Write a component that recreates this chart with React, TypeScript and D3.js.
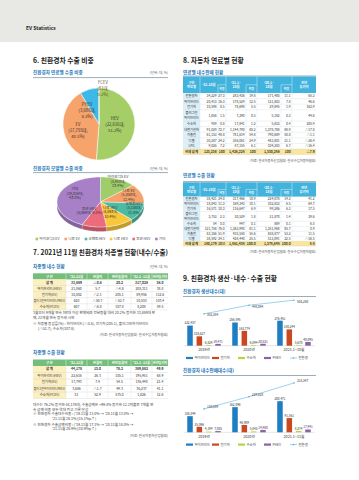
import * as d3 from "d3";

const W = 359;
const H = 480;
const FONT = "'Noto Sans CJK KR', 'Noto Sans', sans-serif";

// 6. 친환경차 연료별 수출 비중
const fuelNames = ["HEV", "EV", "PHEV", "FCEV"];
const fuelCounts = [22616, 17793, 3686, 81];
const fuelShares = [51.2, 40.3, 8.3, 0.2];
const fuelColors = ["#a5cf66", "#f6a46c", "#3cb9e9", "#76692a"];

// 6. 친환경차 모델별 수출 비중
const modelNames = ["아이오닉5 EV", "니로 EV", "쏘렌토HEV", "니로 HEV", "투싼 HEV", "기타"];
const modelCounts = [5910, 5480, 5108, 4593, 4069, 19016];
const modelShares = [13.4, 12.4, 11.6, 10.4, 9.2, 43.0];
const modelColors = ["#9fcd69", "#f6a26b", "#4dbba3", "#f8c73a", "#ec6b7c", "#a880c8"];

// 7. 차종별 내수 / 수출
const typeHeader = ["구 분", "'21.11월", "전월비", "전년동월비", "'21.1~11월", "전년동기비"];
const typeDomestic = [
  ["합 계", "33,889", "△0.8", "20.2", "317,028", "58.0"],
  ["하이브리드(HEV)", "21,860", "5.7", "△4.8", "208,311", "38.8"],
  ["전기차(EV)", "10,802", "△2.1", "205.1", "89,956", "112.6"],
  ["플러그인하이브리드(PHEV)", "620", "△50.7", "△52.7", "10,553", "103.4"],
  ["수소차(FCEV)", "607", "△8.0", "107.8", "8,208", "59.5"],
];
const typeExport = [
  ["합 계", "44,176", "15.0", "76.2", "369,662", "49.9"],
  ["하이브리드(HEV)", "22,616", "26.3", "105.1", "195,951", "68.9"],
  ["전기차(EV)", "17,793", "7.4", "54.5", "136,448", "21.4"],
  ["플러그인하이브리드(PHEV)", "3,686", "△1.7", "49.3", "36,237", "41.1"],
  ["수소차(FCEV)", "81", "52.9", "575.0", "1,026", "12.6"],
];

// 8. 연료별 내수판매 / 수출
const fuelDomestic = [
  ["친환경차", "34,229", "27.3", "283,436", "19.8", "171,480", "11.1", "65.3"],
  ["하이브리드", "20,413", "16.3", "178,529", "12.5", "121,803", "7.8", "46.6"],
  ["전기차", "10,598", "8.5", "78,690", "5.5", "29,845", "1.9", "163.9"],
  ["플러그인\n하이브리드", "1,858", "1.5", "7,390", "0.5", "5,182", "0.3", "44.6"],
  ["수소차", "959", "0.8", "17,841", "1.2", "5,833", "0.4", "205.9"],
  ["내연기관차", "91,029", "72.7", "1,144,790", "80.2", "1,378,788", "88.9", "△17.0"],
  ["가솔린", "61,153", "48.8", "781,614", "54.8", "790,689", "50.8", "△1.1"],
  ["디젤", "30,287", "24.2", "356,061", "24.9", "483,801", "31.1", "△26.4"],
  ["LPG", "9,026", "7.2", "87,155", "6.1", "104,283", "6.7", "△16.4"],
  ["전체 합계", "125,258", "100", "1,428,226", "100", "1,550,268", "100", "△7.9"],
];
const fuelExport = [
  ["친환경차", "38,421", "24.0", "317,466", "18.9", "224,878", "14.3", "41.2"],
  ["하이브리드", "18,043", "11.3", "169,343", "10.1", "102,833", "6.5", "64.7"],
  ["전기차", "16,571", "10.3", "116,647", "6.9", "99,286", "6.3", "17.5"],
  ["플러그인\n하이브리드", "3,753", "2.3", "30,529", "1.8", "21,870", "1.4", "39.6"],
  ["수소차", "54", "0.0", "947", "0.1", "889", "0.1", "6.5"],
  ["내연기관차", "121,758", "76.0", "1,363,990", "81.1", "1,351,968", "85.7", "0.9"],
  ["가솔린", "83,166", "51.9", "935,550", "55.6", "838,877", "53.2", "11.5"],
  ["디젤", "38,592", "24.1", "428,440", "25.5", "513,091", "32.5", "△16.5"],
  ["전체 합계", "160,179", "100.0", "1,681,456", "100.0", "1,576,846", "100.0", "6.6"],
];

// 9. 생산 / 내수판매
const seriesNames = ["하이브리드", "전기차", "수소차", "PHEV"];
const seriesColors = ["#1f7dc4", "#c9481f", "#b8d43c", "#8c62a8"];
const totalName = "친환경";
const totalColor = "#5ab6e4";

const prodYears = ["2019년", "2020년", "2021.1~10월"];
const prodHev = [222457, 256595, 276451];
const prodEv = [103627, 163774, 180244];
const prodFcev = [6829, 6894, 5670];
const prodPhev = [19471, 20831, 40895];
const prodTotal = [352384, 448094, 503260];

const salesYears = ["2019년", "2020년", "2021.1~11월"];
const salesHev = [103844, 162096, 200471];
const salesEv = [35046, 46909, 91561];
const salesFcev = [4194, 5843, 8374];
const salesPhev = [7805, 14980, 17941];
const salesTotal = [150889, 229828, 318347];

const fmt = d3.format(",");

// rough text width, used to squeeze text that would overflow its box
const estW = (s: string, fs: number) => {
  let w = 0;
  for (const c of s) {
    if (/[\uAC00-\uD7A3]/.test(c)) w += fs * 0.92;
    else if (/[0-9]/.test(c)) w += fs * 0.56;
    else if (/[A-Z]/.test(c)) w += fs * 0.66;
    else if ("△→↑※".includes(c)) w += fs * 0.9;
    else if (c === " ") w += fs * 0.25;
    else w += fs * 0.34;
  }
  return w;
};

type TP = {
  x: number;
  y: number;
  s: string;
  fs?: number;
  anchor?: "start" | "middle" | "end";
  fill?: string;
  weight?: number;
  max?: number;
};

const T = ({ x, y, s, fs = 4, anchor = "start", fill = "#333", weight = 400, max }: TP) => {
  const fit = max !== undefined && estW(s, fs) > max;
  return (
    <text
      x={x}
      y={y}
      fontSize={fs}
      textAnchor={anchor}
      fill={fill}
      fontWeight={weight}
      {...(fit ? { textLength: max, lengthAdjust: "spacingAndGlyphs" } : {})}
    >
      {s}
    </text>
  );
};

const Title = ({ x, y, s, max }: { x: number; y: number; s: string; max?: number }) => (
  <T x={x} y={y} s={s} fs={6.8} weight={700} fill="#1b1b1b" max={max} />
);
const Sub = ({ x, y, s }: { x: number; y: number; s: string }) => (
  <T x={x} y={y} s={s} fs={4.6} weight={700} fill="#2a79b9" />
);
const Rule = ({ x1, x2, y }: { x1: number; x2: number; y: number }) => (
  <line x1={x1} x2={x2} y1={y} y2={y} stroke="#557586" strokeWidth={0.6} />
);

// ---------- pies ----------
const fuelLabelK = [
  [0.44, 0.44, 0],
  [0.6, 0.85, 0],
  [1.23, 0.4, 0],
  [0, 1, 4],
];

const FuelPie = () => {
  const cx = 99,
    cy = 124,
    r = 36;
  const arcs = d3.pie<number>().sort(null).value((d) => d)(fuelCounts);
  const arc = d3.arc<d3.PieArcDatum<number>>().innerRadius(0).outerRadius(r);
  return (
    <g>
      <g transform={`translate(${cx},${cy})`}>
        {arcs.map((a, i) => (
          <path key={i} d={arc(a) || ""} fill={fuelColors[i]} stroke="#fff" strokeWidth={0.5} />
        ))}
      </g>
      {arcs.map((a, i) => {
        const mid = (a.startAngle + a.endAngle) / 2;
        const [kx, ky, dx] = fuelLabelK[i];
        const lx = cx + r * kx * Math.sin(mid) + dx;
        const ly = cy - r * ky * Math.cos(mid);
        const lines = [fuelNames[i], `(${fmt(fuelCounts[i])}대,`, `${fuelShares[i]}%)`];
        return (
          <g key={i}>
            {lines.map((s, j) => (
              <T key={j} x={lx} y={ly + (j - 1) * 6 + 1.5} s={s} fs={4.2} anchor="middle" fill={i === 3 ? "#5b5220" : "#333"} />
            ))}
          </g>
        );
      })}
    </g>
  );
};

const modelLabelK = [
  [0.98, 0.9],
  [0.69, 0.85],
  [0.84, 0.6],
  [0.49, 0.45],
  [1.77, 0.34],
  [0.6, 1.56],
];

const ModelPie = () => {
  const cx = 100.5,
    cy = 202,
    rx = 43.5,
    ry = 25,
    depth = 4.5;
  const arcs = d3.pie<number>().sort(null).value((d) => d)(modelCounts);
  const P = (a: number, dy = 0): [number, number] => [cx + rx * Math.sin(a), cy - ry * Math.cos(a) + dy];
  const sample = (a0: number, a1: number) => d3.range(0, 31).map((k) => a0 + ((a1 - a0) * k) / 30);
  const lg = d3.line();
  const sides = arcs.map((a) => {
    const s = Math.max(a.startAngle, Math.PI / 2);
    const e = Math.min(a.endAngle, (3 * Math.PI) / 2);
    if (s >= e) return null;
    const pts = sample(s, e);
    return lg([...pts.map((t) => P(t)), ...pts.slice().reverse().map((t) => P(t, depth))]) + "Z";
  });
  const tops = arcs.map((a) => lg([[cx, cy], ...sample(a.startAngle, a.endAngle).map((t) => P(t))]) + "Z");

  // legend, laid out by text width and centred under the pie
  const lfs = 3.6;
  const widths = modelNames.map((n) => 2.6 + 1.2 + estW(n, lfs));
  const gap = 4.2;
  const total = d3.sum(widths) + gap * (widths.length - 1);
  let lx = cx - total / 2;
  const legendX = widths.map((w) => {
    const v = lx;
    lx += w + gap;
    return v;
  });

  return (
    <g>
      {sides.map((d, i) =>
        d ? <path key={i} d={d} fill={d3.color(modelColors[i])!.darker(0.7).toString()} stroke="#fff" strokeWidth={0.2} /> : null
      )}
      {tops.map((d, i) => (
        <path key={i} d={d} fill={modelColors[i]} stroke="#fff" strokeWidth={0.4} />
      ))}
      {arcs.map((a, i) => {
        const mid = (a.startAngle + a.endAngle) / 2;
        const [kx, ky] = modelLabelK[i];
        const x = cx + rx * kx * Math.sin(mid);
        const y = cy - ry * ky * Math.cos(mid);
        const lines =
          i === 4
            ? [modelNames[i], `(${fmt(modelCounts[i])}대, ${modelShares[i]}%)`]
            : [modelNames[i], `(${fmt(modelCounts[i])}대,`, `${modelShares[i].toFixed(1)}%)`];
        const off = (lines.length - 1) / 2;
        return (
          <g key={i}>
            {lines.map((s, j) => (
              <T key={j} x={x} y={y + (j - off) * 4.4 + 1.3} s={s} fs={3.7} anchor="middle" fill="#333" />
            ))}
          </g>
        );
      })}
      {modelNames.map((n, i) => (
        <g key={n}>
          <rect x={legendX[i]} y={237.7} width={2.6} height={2.6} fill={modelColors[i]} />
          <T x={legendX[i] + 3.8} y={240.3} s={n} fs={lfs} fill="#444" />
        </g>
      ))}
    </g>
  );
};

// ---------- tables ----------
const TypeTable = ({ top, rh, header, rows }: { top: number; rh: number; header: string[]; rows: string[][] }) => {
  const edges = [33, 66, 87, 108, 131, 152, 168];
  const fs = 3.4;
  const bottom = top + rh * (rows.length + 1);
  return (
    <g>
      <rect x={33} y={top} width={135} height={rh} fill="#74bd7b" />
      {rows.map((_, ri) => (
        <rect key={ri} x={33} y={top + rh * (ri + 1)} width={33} height={rh} fill="#fcefc0" />
      ))}
      {header.map((h, i) => (
        <T
          key={i}
          x={(edges[i] + edges[i + 1]) / 2}
          y={top + rh / 2 + fs * 0.36}
          s={h}
          fs={fs}
          anchor="middle"
          fill="#fff"
          weight={700}
          max={edges[i + 1] - edges[i] - 1.5}
        />
      ))}
      {edges.slice(1, -1).map((e) => (
        <g key={e}>
          <line x1={e} x2={e} y1={top} y2={top + rh} stroke="#fff" strokeWidth={0.4} />
          <line x1={e} x2={e} y1={top + rh} y2={bottom} stroke="#d6d6d6" strokeWidth={0.3} />
        </g>
      ))}
      {rows.map((r, ri) => {
        const y0 = top + rh * (ri + 1);
        return (
          <g key={ri}>
            {r.map((c, ci) => (
              <T
                key={ci}
                x={(edges[ci] + edges[ci + 1]) / 2}
                y={y0 + rh / 2 + fs * 0.36}
                s={c}
                fs={fs}
                anchor="middle"
                fill="#333"
                weight={ri === 0 ? 700 : 400}
                max={edges[ci + 1] - edges[ci] - 1.5}
              />
            ))}
            <line x1={33} x2={168} y1={y0 + rh} y2={y0 + rh} stroke="#cfcfcf" strokeWidth={0.35} />
          </g>
        );
      })}
    </g>
  );
};

const FuelTable = ({ top, headH, rh, rows }: { top: number; headH: number; rh: number; rows: string[][] }) => {
  const edges = [183, 200, 218, 226, 246, 257, 281, 292, 316];
  const fs = 3.3;
  const hs = rows.map((r) => (r[0].includes("\n") ? rh * 2 : rh));
  const tops = hs.map((_, i) => top + headH + d3.sum(hs.slice(0, i)));
  const bottom = top + headH + d3.sum(hs);
  const mid = top + headH / 2;
  const hy = (y: number) => y + fs * 0.36;
  const spans: [number, string[]][] = [
    [0, ["구분", "연료별"]],
    [1, ["'21.10월"]],
    [3, ["'21.1~", "10월"]],
    [5, ["'20.1~", "10월"]],
    [7, ["전년", "동기비"]],
  ];
  return (
    <g>
      <rect x={183} y={top} width={133} height={headH} fill="#41b3dc" />
      {rows.map((r, i) =>
        i === rows.length - 1 ? (
          <rect key={i} x={183} y={tops[i]} width={133} height={hs[i]} fill="#fae59a" />
        ) : (
          <rect key={i} x={183} y={tops[i]} width={17} height={hs[i]} fill="#dcf0f9" />
        )
      )}
      {spans.map(([c, lines]) => {
        const cxm = (edges[c] + edges[c + 1]) / 2;
        const off = (lines.length - 1) / 2;
        return lines.map((s, j) => (
          <T key={`${c}-${j}`} x={cxm} y={hy(mid + (j - off) * 4.2)} s={s} fs={fs} anchor="middle" fill="#fff" weight={700} />
        ));
      })}
      {[2, 4, 6].map((c) => (
        <g key={c}>
          <line x1={edges[c]} x2={edges[c + 1]} y1={mid} y2={mid} stroke="#fff" strokeWidth={0.4} />
          <line x1={edges[c]} x2={edges[c]} y1={mid} y2={top + headH} stroke="#fff" strokeWidth={0.4} />
          <T x={(edges[c] + edges[c + 1]) / 2} y={hy(mid + headH / 4)} s="비중" fs={fs * 0.9} anchor="middle" fill="#fff" weight={700} />
        </g>
      ))}
      {[1, 3, 5, 7].map((c) => (
        <line key={c} x1={edges[c]} x2={edges[c]} y1={top} y2={top + headH} stroke="#fff" strokeWidth={0.4} />
      ))}
      {edges.slice(1, -1).map((e) => (
        <line key={e} x1={e} x2={e} y1={top + headH} y2={bottom} stroke="#d3dde2" strokeWidth={0.3} />
      ))}
      {rows.map((r, ri) => {
        const cy = tops[ri] + hs[ri] / 2;
        const bold = ri === rows.length - 1;
        return (
          <g key={ri}>
            {r[0].split("\n").map((s, j, arr) => (
              <T
                key={j}
                x={191.5}
                y={hy(cy + (j - (arr.length - 1) / 2) * 4.2)}
                s={s}
                fs={fs}
                anchor="middle"
                fill="#333"
                weight={bold ? 700 : 400}
                max={16}
              />
            ))}
            {r.slice(1).map((c, ci) => (
              <T
                key={ci}
                x={edges[ci + 2] - 1.3}
                y={hy(cy)}
                s={c}
                fs={fs}
                anchor="end"
                fill="#333"
                weight={bold ? 700 : 400}
                max={edges[ci + 2] - edges[ci + 1] - 1.5}
              />
            ))}
            <line x1={183} x2={316} y1={tops[ri] + hs[ri]} y2={tops[ri] + hs[ri]} stroke="#cfd8dc" strokeWidth={0.35} />
          </g>
        );
      })}
    </g>
  );
};

// ---------- combo bar + line charts ----------
type ChartProps = {
  cats: string[];
  series: number[][];
  totals: number[];
  base: number;
  top: number;
  yMax: number;
  totalDy: number;
};

const ComboChart = ({ cats, series, totals, base, top, yMax, totalDy }: ChartProps) => {
  const x0 = d3.scaleBand<string>().domain(cats).range([181.5, 316.5]).paddingInner(0.255).paddingOuter(0.128);
  const x1 = d3.scaleBand<string>().domain(seriesNames).range([0, x0.bandwidth()]).paddingInner(0.41);
  const y = d3.scaleLinear().domain([0, yMax]).range([base, top]);
  const cxOf = (i: number) => (x0(cats[i]) || 0) + x0.bandwidth() / 2;
  const line = d3
    .line<number>()
    .x((_, i) => cxOf(i))
    .y((v) => y(v));
  const legend = d3
    .scaleBand<string>()
    .domain([...seriesNames, totalName])
    .range([186, 316]);
  const ly = base + 12.3;
  return (
    <g>
      <line x1={184} x2={315} y1={base} y2={base} stroke="#bdbdbd" strokeWidth={0.4} />
      {cats.map((c, ci) => (
        <g key={c}>
          {seriesNames.map((s, si) => {
            const v = series[si][ci];
            const bx = (x0(c) || 0) + (x1(s) || 0);
            return (
              <g key={s}>
                <rect x={bx} y={y(v)} width={x1.bandwidth()} height={base - y(v)} fill={seriesColors[si]} />
                <T x={bx + x1.bandwidth() / 2} y={y(v) - 1.2} s={fmt(v)} fs={3.1} anchor="middle" fill="#333" />
              </g>
            );
          })}
          <T x={cxOf(ci)} y={base + 5.6} s={c} fs={3.7} anchor="middle" fill="#333" />
        </g>
      ))}
      <path d={line(totals) || ""} fill="none" stroke={totalColor} strokeWidth={0.6} />
      {totals.map((v, i) => (
        <g key={i}>
          <circle cx={cxOf(i)} cy={y(v)} r={0.8} fill={totalColor} />
          <T x={cxOf(i) + 3} y={y(v) + totalDy} s={fmt(v)} fs={3.1} fill="#333" />
        </g>
      ))}
      {seriesNames.map((s, i) => (
        <g key={s}>
          <rect x={legend(s)} y={ly - 1.1} width={7} height={2.2} fill={seriesColors[i]} />
          <T x={(legend(s) || 0) + 8.5} y={ly + 1.2} s={s} fs={3.4} fill="#444" />
        </g>
      ))}
      <line x1={legend(totalName)} x2={(legend(totalName) || 0) + 7} y1={ly} y2={ly} stroke={totalColor} strokeWidth={0.6} />
      <circle cx={(legend(totalName) || 0) + 3.5} cy={ly} r={0.8} fill={totalColor} />
      <T x={(legend(totalName) || 0) + 8.5} y={ly + 1.2} s={totalName} fs={3.4} fill="#444" />
    </g>
  );
};

const Notes = ({ x, lines }: { x: number; lines: [number, number, string][] }) => (
  <g>
    {lines.map(([dx, y, s], i) => (
      <T key={i} x={x + dx} y={y} s={s} fs={3.6} fill="#444" max={168 - x - dx} />
    ))}
  </g>
);

export default function App() {
  return (
    <svg
      width={W}
      height={H}
      viewBox={`0 0 ${W} ${H}`}
      fontFamily={FONT}
      style={{ position: "absolute", left: 0, top: 0, background: "#fff" }}
    >
      <rect x={0} y={0} width={W} height={42} fill="#e8e8e5" />
      <T x={26} y={30.4} s="EV Statistics" fs={5} weight={700} fill="#222" />

      {/* 6 */}
      <Title x={33} y={63.4} s="6. 친환경차 수출 비중" />
      <Sub x={33} y={74.4} s="친환경차 연료별 수출 비중" />
      <T x={168} y={74.4} s="(단위: 대, %)" fs={3.4} anchor="end" fill="#666" />
      <Rule x1={33} x2={168} y={77.6} />
      <FuelPie />

      <Sub x={33} y={170} s="친환경차 모델별 수출 비중" />
      <T x={168} y={170} s="(단위: 대, %)" fs={3.4} anchor="end" fill="#666" />
      <Rule x1={33} x2={168} y={172.6} />
      <ModelPie />

      {/* 7 */}
      <Title x={33} y={255} s="7. 2021년 11월 친환경차 차종별 현황(내수/수출)" max={135} />
      <Sub x={33} y={267.8} s="차종별 내수 현황" />
      <T x={168} y={267.8} s="(단위: 대, %)" fs={3.4} anchor="end" fill="#666" />
      <TypeTable top={273.3} rh={6.1} header={typeHeader} rows={typeDomestic} />
      <Notes
        x={33}
        lines={[
          [0, 314.4, "3월부터 9개월 연속 3만대 이상 판매되며 전년동월 대비 20.2% 증가한 33,889대 판"],
          [0, 319.4, "매, 22개월 연속 증가세 시현"],
          [0, 325.2, "※ 차종별 증감률(%) : 하이브리드(△4.8), 전기차(205.1), 플러그인하이브리드"],
          [5, 330, "(△52.7), 수소차(107.8)"],
        ]}
      />
      <T x={168} y={336.4} s="(자료: 한국자동차산업협회·한국수입자동차협회)" fs={3.4} anchor="end" fill="#555" />

      <Sub x={33} y={354} s="차종별 수출 현황" />
      <TypeTable top={359.5} rh={6.5} header={typeHeader} rows={typeExport} />
      <Notes
        x={33}
        lines={[
          [0, 406.3, "대수는 76.2% 증가한 44,176대, 수출금액은 +99.4% 증가한 12.2억불로 7개월 연"],
          [0, 410.6, "속 금액 비중 모두 역대 최고 기록 달성"],
          [0, 415.3, "※ 친환경차 수출대수비중 : ('19.11월 13.0% → '20.11월 13.0% →"],
          [19, 419.6, "'21.11월 28.1%)(15.1%p↑)"],
          [0, 425.6, "※ 친환경차 수출금액비중 : ('19.11월 17.1% → '20.11월 18.0% →"],
          [19, 430, "'21.11월 28.9%)(10.9%p↑)"],
        ]}
      />
      <T x={168} y={436.6} s="(자료: 한국자동차산업협회)" fs={3.4} anchor="end" fill="#555" />

      {/* 8 */}
      <Title x={183} y={63.4} s="8. 자동차 연료별 현황" />
      <Sub x={183} y={73.6} s="연료별 내수판매 현황" />
      <Rule x1={183} x2={316} y={76} />
      <FuelTable top={76.5} headH={16.5} rh={5.6} rows={fuelDomestic} />
      <T x={316} y={161.5} s="(자료: 한국자동차산업협회·한국수입자동차협회)" fs={3.3} anchor="end" fill="#555" />

      <Sub x={183} y={177.4} s="연료별 수출 현황" />
      <Rule x1={183} x2={316} y={181.6} />
      <FuelTable top={182.3} headH={14.3} rh={4.95} rows={fuelExport} />
      <T x={316} y={253.3} s="(자료: 한국자동차산업협회·한국수입자동차협회)" fs={3.3} anchor="end" fill="#555" />

      {/* 9 */}
      <Title x={183} y={280.6} s="9. 친환경차 생산·내수·수출 현황" />
      <Sub x={183} y={293.2} s="친환경차 생산대수(대)" />
      <Rule x1={183} x2={316} y={296.5} />
      <ComboChart
        cats={prodYears}
        series={[prodHev, prodEv, prodFcev, prodPhev]}
        totals={prodTotal}
        base={345.7}
        top={296}
        yMax={550000}
        totalDy={2.4}
      />

      <Sub x={183} y={372.4} s="친환경차 내수판매대수(대)" />
      <Rule x1={183} x2={316} y={375.5} />
      <ComboChart
        cats={salesYears}
        series={[salesHev, salesEv, salesFcev, salesPhev]}
        totals={salesTotal}
        base={432.3}
        top={378}
        yMax={350000}
        totalDy={-1}
      />
    </svg>
  );
}
